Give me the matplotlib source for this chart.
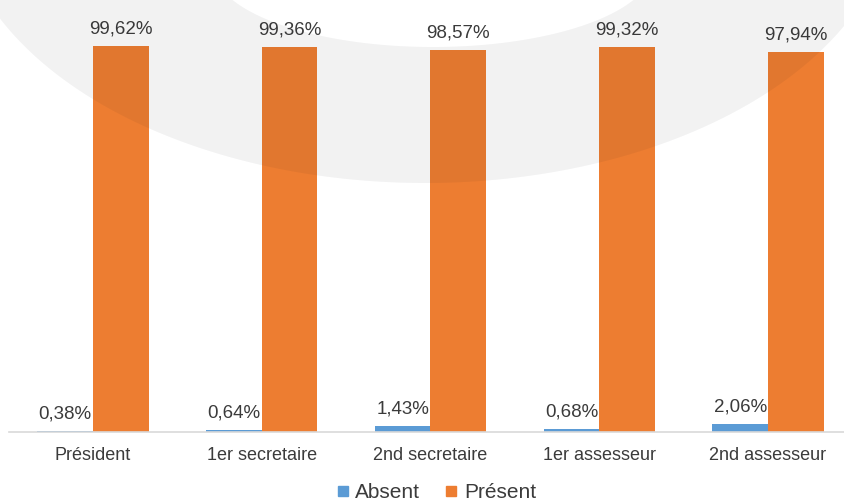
import numpy as np
import matplotlib
matplotlib.use("Agg")
import matplotlib.pyplot as plt
from matplotlib.path import Path
from matplotlib.patches import PathPatch
from matplotlib.lines import Line2D

plt.rcParams['font.family'] = ['Liberation Sans', 'DejaVu Sans']

# Data
categories = ["Président", "1er secretaire", "2nd secretaire", "1er assesseur", "2nd assesseur"]
absent = [0.38, 0.64, 1.43, 0.68, 2.06]
present = [99.62, 99.36, 98.57, 99.32, 97.94]
series_names = ["Absent", "Présent"]

blue = "#5B9BD5"
orange = "#ED7D31"
text_col = "#3b3b3b"

fig = plt.figure(figsize=(8.45, 5.04), dpi=100)
ax = fig.add_axes([8.6 / 845, 72 / 504, 843.75 / 845, 387.5 / 504])

x = np.arange(len(categories))
w = 0.33
b1 = ax.bar(x - w / 2, absent, w, color=blue)
b2 = ax.bar(x + w / 2, present, w, color=orange)

# data labels
def fmt(v):
    return f"{v:.2f}%".replace(".", ",")

for bars, vals in ((b1, absent), (b2, present)):
    for rect, v in zip(bars, vals):
        ax.annotate(fmt(v), (rect.get_x() + rect.get_width() / 2, v),
                    xytext=(0, 9), textcoords="offset points",
                    ha="center", va="baseline", fontsize=13.5, color=text_col)

ax.set_xlim(-0.5, len(categories) - 0.5)
ax.set_ylim(0, 100)
ax.set_xticks(x)
ax.set_xticklabels(categories, fontsize=13, color=text_col)
ax.tick_params(axis="x", length=0, pad=11)
ax.set_yticks([])
for s in ("top", "right", "left"):
    ax.spines[s].set_visible(False)
ax.spines["bottom"].set_color("#d9d9d9")
ax.spines["bottom"].set_linewidth(1.2)

# legend
handles = [Line2D([], [], marker="s", linestyle="None", color=c, markersize=7)
           for c in (blue, orange)]
fig.legend(handles, series_names, loc="center", bbox_to_anchor=(434 / 845, 1 - 493 / 504),
           ncol=2, frameon=False, fontsize=15, handletextpad=0.1, columnspacing=1.0,
           handlelength=1.0, labelcolor=text_col)

# grey ring watermark laid over the chart
ov = fig.add_axes([0, 0, 1, 1], zorder=10)
ov.set_xlim(0, 845)
ov.set_ylim(504, 0)
ov.axis("off")
ov.patch.set_alpha(0)

t = np.linspace(0, 2 * np.pi, 400)
outer = np.column_stack([425 + 470 * np.cos(t), -104 + 287 * np.sin(t)])
inner = np.column_stack([433 + 220 * np.cos(t[::-1]), -33 + 80 * np.sin(t[::-1])])
verts = np.concatenate([outer, inner])
codes = np.full(len(verts), Path.LINETO)
codes[0] = Path.MOVETO
codes[len(outer)] = Path.MOVETO
ring = PathPatch(Path(verts, codes), facecolor="#16161a", edgecolor="none", alpha=0.055)
ov.add_patch(ring)

fig.savefig("out.png", dpi=100)
